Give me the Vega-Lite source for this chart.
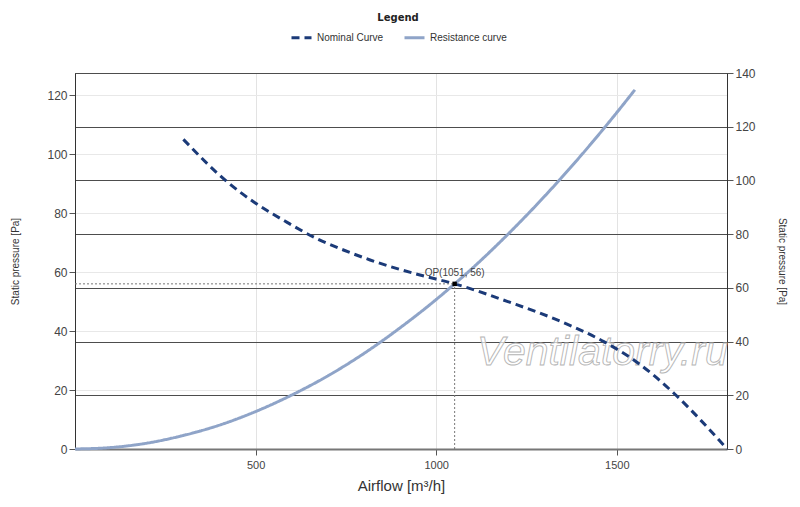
{
  "$schema": "https://vega.github.io/schema/vega-lite/v6.json",
  "autosize": "none",
  "width": 652,
  "height": 376,
  "padding": {"left": 75, "top": 73, "right": 73, "bottom": 58},
  "background": "white",
  "config": {
    "font": "Liberation Sans",
    "view": {"stroke": "#555", "strokeWidth": 1},
    "axis": {
      "labelFont": "Liberation Sans Narrow, Liberation Sans, sans-serif",
      "labelFontSize": 11,
      "labelColor": "#444",
      "titleFont": "Liberation Sans, sans-serif",
      "titleFontWeight": "normal",
      "titleColor": "#333",
      "tickColor": "#555",
      "tickSize": 6,
      "domainColor": "#333"
    },
    "legend": {
      "titleFont": "DejaVu Sans",
      "titleFontSize": 10,
      "titleFontWeight": "bold",
      "titleColor": "#222",
      "titlePadding": 3,
      "labelFont": "Liberation Sans",
      "labelFontSize": 10,
      "labelColor": "#333",
      "symbolType": "stroke",
      "symbolSize": 400,
      "symbolStrokeWidth": 3,
      "columnPadding": 14
    }
  },
  "layer": [
    {
      "layer": [
        {
          "data": {"values": [{"Q": 1460, "P": 32.5, "label": "Ventilatorry.ru"}]},
          "mark": {
            "type": "text",
            "fontSize": 41,
            "fontStyle": "italic",
            "font": "Liberation Sans",
            "fill": "white",
            "fillOpacity": 0.7,
            "stroke": "#b5b5b5",
            "strokeWidth": 0.9,
            "align": "center",
            "baseline": "middle"
          },
          "encoding": {
            "x": {"field": "Q", "type": "quantitative"},
            "y": {"field": "P", "type": "quantitative"},
            "text": {"field": "label"}
          }
        },
        {
          "data": {
            "values": [
              {"series": "Nominal Curve", "Q": 300, "P": 105},
              {"series": "Nominal Curve", "Q": 424, "P": 90.3},
              {"series": "Nominal Curve", "Q": 498, "P": 83.5},
              {"series": "Nominal Curve", "Q": 581, "P": 77.3},
              {"series": "Nominal Curve", "Q": 675, "P": 71},
              {"series": "Nominal Curve", "Q": 745, "P": 67.4},
              {"series": "Nominal Curve", "Q": 817, "P": 64.1},
              {"series": "Nominal Curve", "Q": 955, "P": 59},
              {"series": "Nominal Curve", "Q": 1051, "P": 56},
              {"series": "Nominal Curve", "Q": 1205, "P": 49.7},
              {"series": "Nominal Curve", "Q": 1344, "P": 43.3},
              {"series": "Nominal Curve", "Q": 1464, "P": 36.4},
              {"series": "Nominal Curve", "Q": 1547, "P": 30.2},
              {"series": "Nominal Curve", "Q": 1658, "P": 18.9},
              {"series": "Nominal Curve", "Q": 1732, "P": 9.8},
              {"series": "Nominal Curve", "Q": 1805, "P": 0},
              {"series": "Resistance curve", "Q": 0, "P": 0},
              {"series": "Resistance curve", "Q": 100, "P": 0.5},
              {"series": "Resistance curve", "Q": 200, "P": 2},
              {"series": "Resistance curve", "Q": 300, "P": 4.6},
              {"series": "Resistance curve", "Q": 400, "P": 8.1},
              {"series": "Resistance curve", "Q": 500, "P": 12.7},
              {"series": "Resistance curve", "Q": 600, "P": 18.3},
              {"series": "Resistance curve", "Q": 700, "P": 24.8},
              {"series": "Resistance curve", "Q": 800, "P": 32.4},
              {"series": "Resistance curve", "Q": 900, "P": 41.1},
              {"series": "Resistance curve", "Q": 1000, "P": 50.7},
              {"series": "Resistance curve", "Q": 1051, "P": 56},
              {"series": "Resistance curve", "Q": 1100, "P": 61.3},
              {"series": "Resistance curve", "Q": 1200, "P": 73},
              {"series": "Resistance curve", "Q": 1300, "P": 85.7},
              {"series": "Resistance curve", "Q": 1400, "P": 99.4},
              {"series": "Resistance curve", "Q": 1500, "P": 114.1},
              {"series": "Resistance curve", "Q": 1550, "P": 121.8}
            ]
          },
          "mark": {"type": "line", "strokeWidth": 3, "interpolate": "monotone"},
          "encoding": {
            "x": {
              "field": "Q",
              "type": "quantitative",
              "scale": {"domain": [0, 1805], "nice": false, "zero": false},
              "axis": {
                "title": "Airflow [m³/h]",
                "values": [500, 1000, 1500],
                "format": "d",
                "titleFontSize": 15,
                "titlePadding": 8,
                "domainColor": "#777",
                "domainWidth": 2,
                "gridColor": "#e3e3e3",
                "labelPadding": 4
              }
            },
            "y": {
              "field": "P",
              "type": "quantitative",
              "scale": {"domain": [0, 127.5], "nice": false},
              "axis": {
                "title": "Static pressure [Pa]",
                "values": [0, 20, 40, 60, 80, 100, 120],
                "titleFontSize": 10,
                "titleX": -55,
                "gridColor": "#e8e8e8",
                "labelFontSize": 12
              }
            },
            "color": {
              "field": "series",
              "type": "nominal",
              "scale": {"domain": ["Nominal Curve", "Resistance curve"], "range": ["#1b3a78", "#8fa4c8"]},
              "legend": {"title": "Legend", "orient": "none", "legendX": 215, "legendY": -60, "direction": "horizontal", "titleAnchor": "middle"}
            },
            "strokeDash": {
              "field": "series",
              "type": "nominal",
              "scale": {"domain": ["Nominal Curve", "Resistance curve"], "range": [[8, 5], [1, 0]]},
              "legend": {"title": "Legend", "orient": "none", "legendX": 215, "legendY": -60, "direction": "horizontal", "titleAnchor": "middle"}
            }
          }
        },
        {
          "data": {"values": [{"Q": 0, "Q2": 1051, "P": 56}]},
          "mark": {"type": "rule", "color": "#777", "strokeDash": [2, 2], "strokeWidth": 1},
          "encoding": {
            "x": {"field": "Q", "type": "quantitative"},
            "x2": {"field": "Q2"},
            "y": {"field": "P", "type": "quantitative"}
          }
        },
        {
          "data": {"values": [{"Q": 1051, "P": 0, "P2": 56}]},
          "mark": {"type": "rule", "color": "#777", "strokeDash": [2, 2], "strokeWidth": 1},
          "encoding": {
            "x": {"field": "Q", "type": "quantitative"},
            "y": {"field": "P", "type": "quantitative"},
            "y2": {"field": "P2"}
          }
        },
        {
          "data": {"values": [{"Q": 1051, "P": 56, "label": "OP(1051, 56)"}]},
          "mark": {"type": "point", "shape": "square", "filled": true, "color": "black", "size": 20, "opacity": 1},
          "encoding": {
            "x": {"field": "Q", "type": "quantitative"},
            "y": {"field": "P", "type": "quantitative"}
          }
        },
        {
          "data": {"values": [{"Q": 1051, "P": 56, "label": "OP(1051, 56)"}]},
          "mark": {"type": "text", "fontSize": 10, "color": "#444", "dy": -11, "align": "center", "font": "Liberation Sans Narrow, Liberation Sans"},
          "encoding": {
            "x": {"field": "Q", "type": "quantitative"},
            "y": {"field": "P", "type": "quantitative"},
            "text": {"field": "label"}
          }
        }
      ]
    },
    {
      "data": {"values": [{"R": 0}, {"R": 140}]},
      "mark": {"type": "point", "opacity": 0},
      "encoding": {
        "y": {
          "field": "R",
          "type": "quantitative",
          "scale": {"domain": [0, 140], "nice": false},
          "axis": {
            "orient": "right",
            "title": "Static pressure [Pa]",
            "values": [0, 20, 40, 60, 80, 100, 120, 140],
            "grid": true,
            "gridColor": "#4d4d4d",
            "gridWidth": 1,
            "titleFontSize": 10,
            "titleX": 49,
            "labelFontSize": 12
          }
        }
      }
    }
  ],
  "resolve": {"scale": {"y": "independent"}, "axis": {"y": "independent"}}
}
